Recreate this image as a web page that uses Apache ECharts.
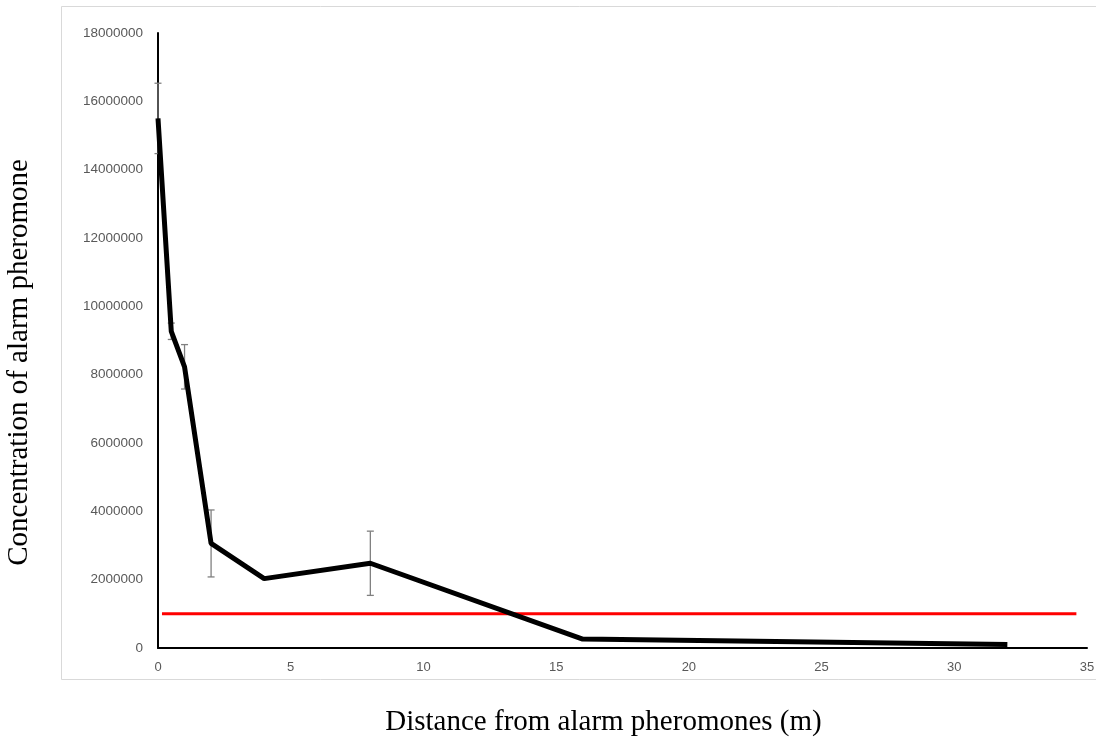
<!DOCTYPE html>
<html>
<head>
<meta charset="utf-8">
<script src="https://cdn.jsdelivr.net/npm/echarts@6/dist/echarts.min.js"></script>
<style>
html,body{margin:0;padding:0;background:#fff;}
#chart{width:1096px;height:745px;}
</style>
</head>
<body>
<div id="chart"></div>
<script>
// Data
const distances = [0, 0.5, 1, 2, 4, 8, 16, 32];
const concentration = [15500000, 9270000, 8230000, 3060000, 2030000, 2480000, 260000, 100000];
const errors = [1030000, 240000, 650000, 980000, 0, 940000, 0, 0];
const thresholdX = [0.15, 34.6];
const thresholdValue = 1000000;
const xTicks = { min: 0, max: 35, interval: 5 };
const yTicks = { min: 0, max: 18000000, interval: 2000000 };

const chart = echarts.init(document.getElementById('chart'), null, {renderer: 'canvas'});

const lineData = distances.map((d, i) => [d, concentration[i]]);
const errData = distances.map((d, i) => [d, concentration[i], errors[i]]).filter(r => r[2] > 0);
const thresholdData = thresholdX.map(x => [x, thresholdValue]);

const option = {
  backgroundColor: '#ffffff',
  animation: false,
  graphic: [{
    type: 'rect',
    shape: {x: 61.5, y: 6.5, width: 1060, height: 673},
    style: {fill: 'none', stroke: '#d9d9d9', lineWidth: 1},
    z: -1
  }],
  grid: {left: 158, right: 9, top: 33, bottom: 97, containLabel: false, outerBoundsMode: 'none'},
  xAxis: {
    type: 'value',
    min: xTicks.min, max: xTicks.max, interval: xTicks.interval,
    name: 'Distance from alarm pheromones (m)',
    nameLocation: 'middle',
    nameGap: 60,
    nameTextStyle: {fontFamily: 'Liberation Serif', fontSize: 29, color: '#000', padding: [0, 38, 0, 0]},
    axisLine: {show: true, onZero: false, lineStyle: {color: '#000', width: 2}},
    axisTick: {show: false},
    splitLine: {show: false},
    axisLabel: {color: '#595959', fontFamily: 'Liberation Sans', fontSize: 13, margin: 13,
      formatter: v => String(v)}
  },
  yAxis: {
    type: 'value',
    min: yTicks.min, max: yTicks.max, interval: yTicks.interval,
    name: 'Concentration of alarm pheromone',
    nameLocation: 'middle',
    nameGap: 124,
    nameTextStyle: {fontFamily: 'Liberation Serif', fontSize: 29, color: '#000', padding: [0, 44, 0, 0]},
    axisLine: {show: true, lineStyle: {color: '#000', width: 2}},
    axisTick: {show: false},
    splitLine: {show: false},
    axisLabel: {color: '#595959', fontFamily: 'Liberation Sans', fontSize: 13.5, margin: 15,
      formatter: v => String(v)}
  },
  series: [
    {
      type: 'line',
      data: thresholdData,
      showSymbol: false,
      symbol: 'none',
      lineStyle: {color: '#ff0000', width: 3},
      z: 2
    },
    {
      type: 'custom',
      data: errData,
      renderItem: function (params, api) {
        const x = api.value(0), y = api.value(1), e = api.value(2);
        const top = api.coord([x, y + e]);
        const bot = api.coord([x, y - e]);
        const c = 3.5;
        const style = {stroke: '#808080', lineWidth: 1.3};
        return {
          type: 'group',
          children: [
            {type: 'line', shape: {x1: top[0], y1: top[1], x2: bot[0], y2: bot[1]}, style: style},
            {type: 'line', shape: {x1: top[0] - c, y1: top[1], x2: top[0] + c, y2: top[1]}, style: style},
            {type: 'line', shape: {x1: bot[0] - c, y1: bot[1], x2: bot[0] + c, y2: bot[1]}, style: style}
          ]
        };
      },
      z: 3
    },
    {
      type: 'line',
      data: lineData,
      showSymbol: false,
      symbol: 'none',
      lineStyle: {color: '#000000', width: 5},
      z: 4
    }
  ]
};
chart.setOption(option);
</script>
</body>
</html>
